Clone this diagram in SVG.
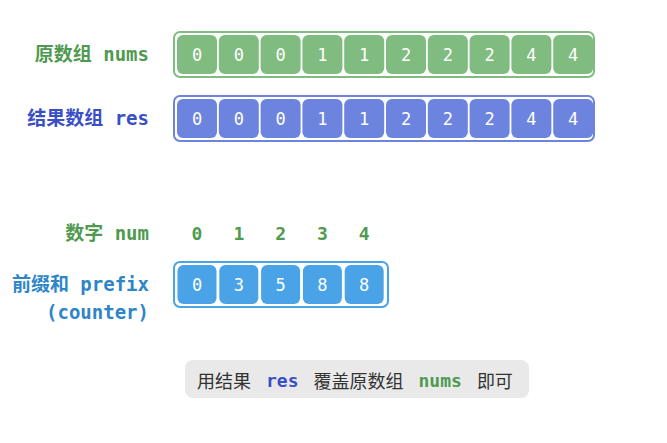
<svg xmlns="http://www.w3.org/2000/svg" width="667" height="443" viewBox="0 0 667 443">
<style>
.lbl{font-family:"DejaVu Sans Mono","Noto Sans CJK SC",monospace;font-weight:bold;font-size:19px;text-anchor:end;dominant-baseline:central}
.g{fill:#4f9a50}.b{fill:#3a4fc6}.c{fill:#2e85c8}
.outg{fill:#fff;stroke:#80bb80;stroke-width:2}
.outb{fill:#fff;stroke:#6c84dd;stroke-width:2}
.outc{fill:#fff;stroke:#4aa3e6;stroke-width:2}
.cg{fill:#80bb80}.cb{fill:#6c84dd}.cc{fill:#4aa3e6}
.v{font-family:"DejaVu Sans Mono",monospace;font-size:17px;fill:#fff;text-anchor:middle;dominant-baseline:central}
.idx{font-family:"DejaVu Sans Mono",monospace;font-weight:bold;font-size:18px;fill:#4f9a50;text-anchor:middle;dominant-baseline:central}
.note{font-family:"Noto Sans CJK SC","Noto Sans",sans-serif;font-size:18px;fill:#333;dominant-baseline:central}
.mono{font-family:"DejaVu Sans Mono",monospace;font-weight:bold}
</style>
<rect width="667" height="443" fill="#fff"/>
<g id="nums">
<text class="lbl g" x="149" y="54">原数组 nums</text>
<rect class="outg" x="174" y="32" width="420" height="45" rx="6"/>
<g class="cg">
<rect x="177" y="35" width="40" height="39" rx="6"/><rect x="218.8" y="35" width="40" height="39" rx="6"/><rect x="260.6" y="35" width="40" height="39" rx="6"/><rect x="302.4" y="35" width="40" height="39" rx="6"/><rect x="344.2" y="35" width="40" height="39" rx="6"/><rect x="386" y="35" width="40" height="39" rx="6"/><rect x="427.8" y="35" width="40" height="39" rx="6"/><rect x="469.6" y="35" width="40" height="39" rx="6"/><rect x="511.4" y="35" width="40" height="39" rx="6"/><rect x="553.2" y="35" width="40" height="39" rx="6"/>
</g>
<g class="v">
<text x="197" y="54.5">0</text><text x="238.8" y="54.5">0</text><text x="280.6" y="54.5">0</text><text x="322.4" y="54.5">1</text><text x="364.2" y="54.5">1</text><text x="406" y="54.5">2</text><text x="447.8" y="54.5">2</text><text x="489.6" y="54.5">2</text><text x="531.4" y="54.5">4</text><text x="573.2" y="54.5">4</text>
</g>
</g>
<g id="res">
<text class="lbl b" x="149" y="118">结果数组 res</text>
<rect class="outb" x="174" y="96" width="420" height="45" rx="6"/>
<g class="cb">
<rect x="177" y="99" width="40" height="39" rx="6"/><rect x="218.8" y="99" width="40" height="39" rx="6"/><rect x="260.6" y="99" width="40" height="39" rx="6"/><rect x="302.4" y="99" width="40" height="39" rx="6"/><rect x="344.2" y="99" width="40" height="39" rx="6"/><rect x="386" y="99" width="40" height="39" rx="6"/><rect x="427.8" y="99" width="40" height="39" rx="6"/><rect x="469.6" y="99" width="40" height="39" rx="6"/><rect x="511.4" y="99" width="40" height="39" rx="6"/><rect x="553.2" y="99" width="40" height="39" rx="6"/>
</g>
<g class="v">
<text x="197" y="118.5">0</text><text x="238.8" y="118.5">0</text><text x="280.6" y="118.5">0</text><text x="322.4" y="118.5">1</text><text x="364.2" y="118.5">1</text><text x="406" y="118.5">2</text><text x="447.8" y="118.5">2</text><text x="489.6" y="118.5">2</text><text x="531.4" y="118.5">4</text><text x="573.2" y="118.5">4</text>
</g>
</g>
<g id="num">
<text class="lbl g" x="149" y="233">数字 num</text>
<text class="idx" x="197" y="233">0</text><text class="idx" x="238.8" y="233">1</text><text class="idx" x="280.6" y="233">2</text><text class="idx" x="322.4" y="233">3</text><text class="idx" x="364.2" y="233">4</text>
</g>
<g id="prefix">
<text class="lbl c" x="149" y="284">前缀和 prefix</text>
<text class="lbl c" x="149" y="312">(counter)</text>
<rect class="outc" x="174" y="262" width="214" height="45" rx="6"/>
<g class="cc">
<rect x="177.5" y="265" width="39" height="39" rx="6"/><rect x="219.3" y="265" width="39" height="39" rx="6"/><rect x="261.1" y="265" width="39" height="39" rx="6"/><rect x="302.9" y="265" width="39" height="39" rx="6"/><rect x="344.7" y="265" width="39" height="39" rx="6"/>
</g>
<g class="v">
<text x="197" y="284.5">0</text><text x="238.8" y="284.5">3</text><text x="280.6" y="284.5">5</text><text x="322.4" y="284.5">8</text><text x="364.2" y="284.5">8</text>
</g>
</g>
<g id="note">
<rect x="185" y="360" width="344" height="38" rx="8" fill="#e9e9e9"/>
<text class="note" x="197" y="380">用结果<tspan class="mono" fill="#3a4fc6" dx="15">res</tspan><tspan dx="15">覆盖原数组</tspan><tspan class="mono" fill="#4f9a50" dx="15">nums</tspan><tspan dx="15">即可</tspan></text>
</g>
</svg>
